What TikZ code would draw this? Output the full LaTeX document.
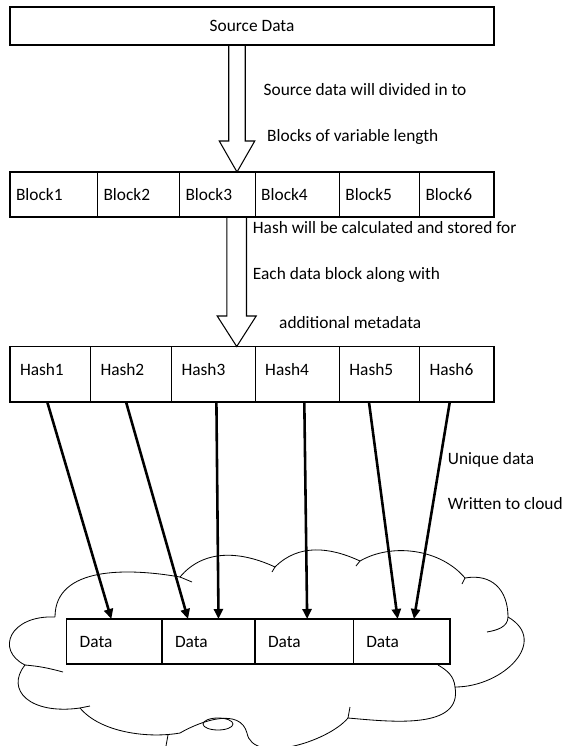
\documentclass[tikz,border=0pt]{standalone}
\usepackage{fontspec}
\setmainfont{Carlito}
\usepackage{tikz}
\usetikzlibrary{arrows.meta,positioning,calc}

\begin{document}
\begin{tikzpicture}[
        x=0.03cm, y=-0.03cm,
        cell/.style={draw, line width=0.9pt, fill=white, outer sep=0pt, align=left, font=\fontsize{14.8}{18}\selectfont},
        blockcell/.style={cell, minimum height=1.35cm, inner xsep=0.18cm},
        hashcell/.style={cell, minimum height=1.665cm, inner xsep=0.3cm, text depth=0.3cm},
        datacell/.style={cell, minimum height=1.35cm, inner xsep=0.39cm},
        note/.style={anchor=west, inner sep=0pt, font=\fontsize{14.8}{18}\selectfont},
        hollow/.style={draw, line width=0.9pt, line join=miter},
        link/.style={-{Triangle[length=0.3cm, width=0.27cm]}, line width=2.2pt},
        cloudline/.style={line width=0.7pt}
    ]
    \useasboundingbox (0,0) rectangle (566,746);
    \clip (0,0) rectangle (566,746);

    % cloud
    \draw[cloudline] (55,617) to[out=90,in=170] (180,577)
        to[out=50,in=155] (275,567)
        to[out=45,in=155] (360,561)
        to[out=30,in=130,looseness=0.9] (465,578)
        to[out=10,in=90,looseness=1.2] (508,617)
        to[out=-30,in=0,looseness=1.4] (455,687)
        to[out=-80,in=-5] (348,718)
        to[out=-130,in=-80,looseness=0.8] (247,733)
        to[out=105,in=30] (180,733)
        to[out=190,in=-50,looseness=0.8] (80,708)
        .. controls (30,715) and (5,690) .. (25,665)
        .. controls (-5,650) and (10,615) .. (55,617);
    \draw[cloudline] (180,577) -- (192,582);
    \draw[cloudline] (275,567) -- (272,572);
    \draw[cloudline] (360,561) -- (356,566);
    \draw[cloudline] (465,578) -- (462,584);
    \draw[cloudline] (508,617) to[out=-90,in=10] (487,632);
    \draw[cloudline] (438,665) to[out=-30,in=95] (455,687);
    \draw[cloudline] (348,718) -- (350,707);
    \draw[cloudline] (168,735) -- (166,746);
    \draw[cloudline] (80,708) -- (90,706);
    \draw[cloudline] (25,665) to[out=-5,in=165] (63,672);
    \draw[cloudline] (218,724) ellipse [x radius=0.45cm, y radius=0.18cm];

    % source
    \node[cell, minimum width=14.52cm, minimum height=1.14cm, anchor=north west] (src) at (10,7) {Source Data};

    % blocks
    \node[blockcell, text width=2.265cm, anchor=north west] (b1) at (10,172) {Block1};
    \node[blockcell, text width=2.10cm, right=0pt of b1] (b2) {Block2};
    \node[blockcell, text width=1.911cm, right=0pt of b2] (b3) {Block3};
    \node[blockcell, text width=2.166cm, right=0pt of b3] (b4) {Block4};
    \node[blockcell, text width=2.043cm, right=0pt of b4] (b5) {Block5};
    \node[blockcell, text width=1.875cm, right=0pt of b5] (b6) {Block6};

    % hashes
    \node[hashcell, text width=1.815cm, anchor=north west] (h1) at (10,346.5) {Hash1};
    \node[hashcell, text width=1.833cm, right=0pt of h1] (h2) {Hash2};
    \node[hashcell, text width=1.908cm, right=0pt of h2] (h3) {Hash3};
    \node[hashcell, text width=1.926cm, right=0pt of h3] (h4) {Hash4};
    \node[hashcell, text width=1.803cm, right=0pt of h4] (h5) {Hash5};
    \node[hashcell, text width=1.635cm, right=0pt of h5] (h6) {Hash6};

    % data in the cloud
    \node[datacell, text width=2.079cm, anchor=north west] (d1) at (66.7,619) {Data};
    \node[datacell, text width=2.01cm, right=0pt of d1] (d2) {Data};
    \node[datacell, text width=2.169cm, right=0pt of d2] (d3) {Data};
    \node[datacell, text width=2.121cm, right=0pt of d3] (d4) {Data};

    % hollow arrows
    \coordinate (t1) at ($(b3.north)+(19.65,0)$);
    \draw[hollow] ($(src.south -| t1)+(-8.25,0)$) -- ($(t1)+(-8.25,-31)$) -- ($(t1)+(-17.75,-31)$) -- (t1)
        -- ($(t1)+(17.75,-31)$) -- ($(t1)+(8.25,-31)$) -- ($(src.south -| t1)+(8.25,0)$);
    \coordinate (t2) at ($(h3.north)+(23.3,0)$);
    \draw[hollow] ($(b3.south -| t2)+(-9.8,0)$) -- ($(t2)+(-9.8,-30.5)$) -- ($(t2)+(-19.5,-30.5)$) -- (t2)
        -- ($(t2)+(19.5,-30.5)$) -- ($(t2)+(9.8,-30.5)$) -- ($(b3.south -| t2)+(9.8,0)$);

    \node[note] (split1) at (263.5,90) {Source data will divided in to};
    \node[note] (split2) at (267,137) {Blocks of variable length};
    \node[note] (hashnote1) at (252.7,228) {Hash will be calculated and stored for};
    \node[note] (hashnote2) at (252.7,275) {Each data block along with};
    \node[note] (hashnote3) at (279,323) {additional metadata};
    \node[note] (uniq1) at (447.7,460) {Unique data};
    \node[note] (uniq2) at (447.7,504) {Written to cloud};

    % hashes to cloud
    \draw[link] ($(h1.south)+(-3,0)$) -- ($(d1.north)+(-3,0)$);
    \draw[link] ($(h2.south)+(-5,0)$) -- ($(d2.north)+(-20.5,0)$);
    \draw[link] ($(h3.south)+(3,0)$) -- ($(d2.north)+(10,0)$);
    \draw[link] ($(h4.south)+(7,0)$) -- ($(d3.north)+(3,0)$);
    \draw[link] ($(h5.south)+(-10.5,0)$) -- ($(d4.north)+(-4,0)$);
    \draw[link] ($(h6.south)+(-7,0)$) -- ($(d4.north)+(12.3,0)$);
\end{tikzpicture}
\end{document}
